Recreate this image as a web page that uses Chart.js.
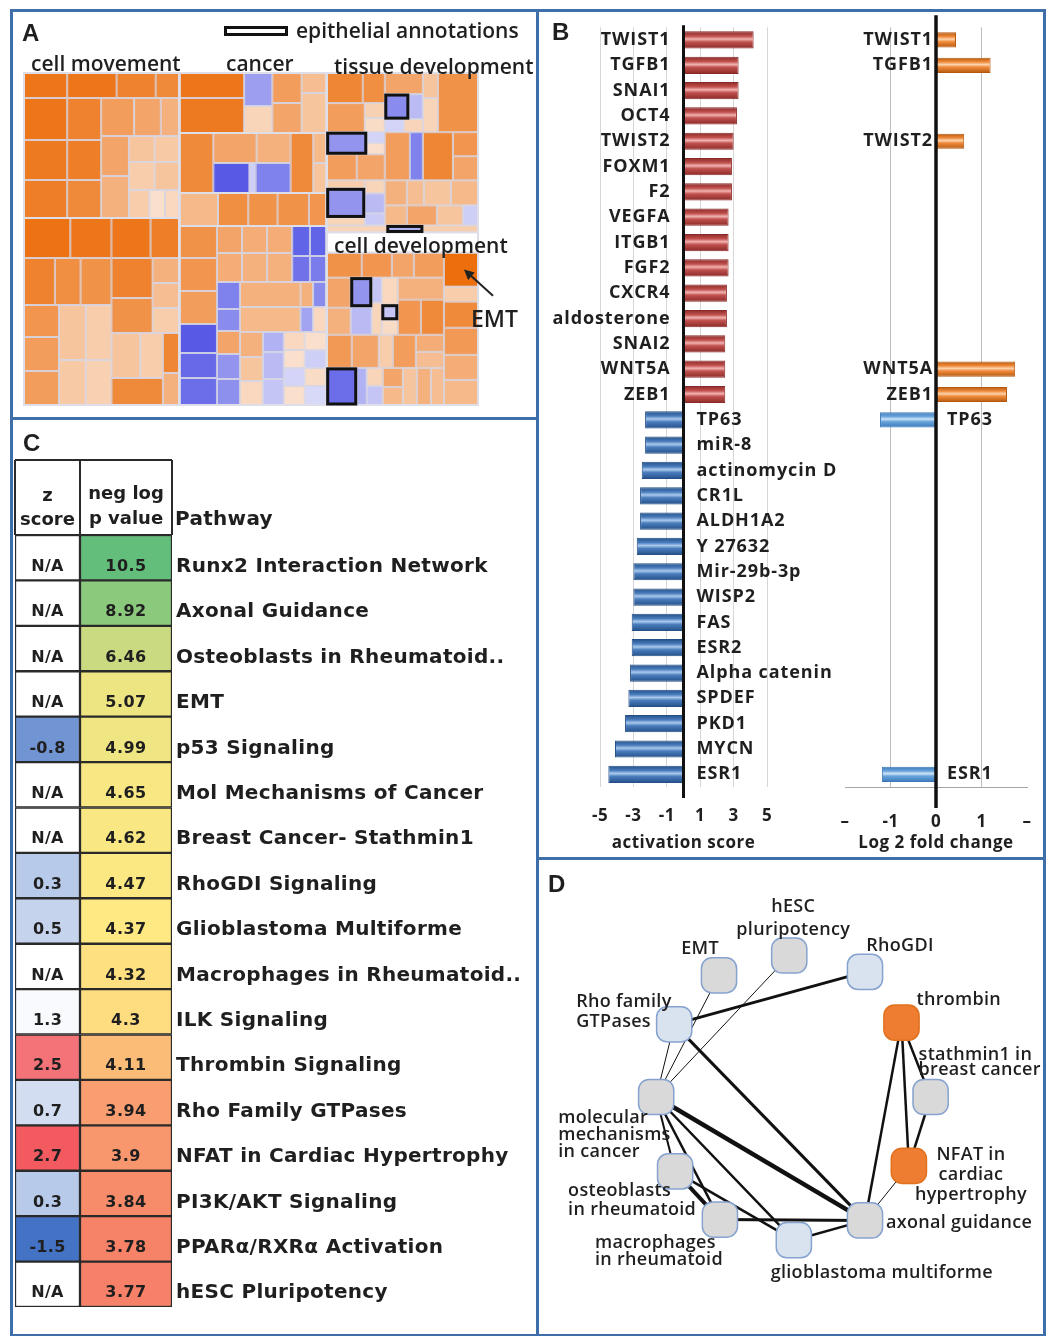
<!DOCTYPE html>
<html lang="en">
<head>
<meta charset="UTF-8">
<title>EMT signature figure</title>
<script src="https://cdn.jsdelivr.net/npm/chart.js"></script>
<style>
  body { margin: 0; background: #fff; }
  #fig { position: relative; width: 1047px; height: 1336px; overflow: hidden; background: #fff; }
  .frame { position: absolute; border: 3px solid #3f6faa; box-sizing: border-box; }
  canvas { position: absolute; }
  .lbl { position: absolute; white-space: nowrap; color: #1f1f1f; line-height: 1; transform: translateY(-50%);
         font-family: 'Open Sans', sans-serif; font-weight: 600; font-size: 21px; }
  .letter { font-family: 'Liberation Sans', Arial, sans-serif; font-weight: bold; font-size: 24px; }
  #annoBox { position: absolute; left: 224px; top: 26px; width: 64px; height: 10px; border: 3px solid #111; box-sizing: border-box; background: #fff; }
</style>
</head>
<body>
<div id="fig">
  <div class="frame" style="left:10px;top:9px;width:529px;height:411px"></div>
  <div class="frame" style="left:536px;top:9px;width:510px;height:851px"></div>
  <div class="frame" style="left:10px;top:417px;width:529px;height:920px"></div>
  <div class="frame" style="left:536px;top:857px;width:510px;height:480px"></div>

  <canvas id="treemap" width="523" height="405" style="left:13px;top:12px"></canvas>
  <canvas id="actChart" width="505" height="846" style="left:540px;top:12px"></canvas>
  <canvas id="fcChart" width="505" height="846" style="left:540px;top:12px"></canvas>
  <canvas id="tableChart" width="537" height="914" style="left:0px;top:420px"></canvas>
  <canvas id="netChart" width="506" height="474" style="left:539px;top:860px"></canvas>

  <div id="annoBox"></div>
  <div class="lbl letter" style="left:22px;top:33px">A</div>
  <div class="lbl" style="left:296px;top:30px">epithelial annotations</div>
  <div class="lbl" style="left:31px;top:63px">cell movement</div>
  <div class="lbl" style="left:226px;top:63px">cancer</div>
  <div class="lbl" style="left:334px;top:66px">tissue development</div>
  <div class="lbl" style="left:334px;top:245px">cell development</div>
  <div class="lbl" style="left:471px;top:318px;font-size:23px">EMT</div>
  <div class="lbl letter" style="left:552px;top:32px">B</div>
  <div class="lbl letter" style="left:23px;top:443px">C</div>
  <div class="lbl letter" style="left:548px;top:884px">D</div>
</div>

<script>
const INK = '#1f1f1f';

// ---------- panel A: treemap ----------
// a cell is [size, z score (, 1 = epithelial annotation, 2 = EMT)],
// a block is [size, 'h' | 'v', children]; [size, null] leaves a gap
const cellMovement = [155, 'v', [
  [145, 'v', [
    [25, 'h', [[42, 3], [48, 3], [38, 2.7], [23, 2.5]]],
    [120, 'h', [
      [42, 'v', [[42, 3], [40, 2.9], [38, 2.8]]],
      [33, 'v', [[42, 2.7], [40, 2.8], [38, 2.5]]],
      [76, 'v', [
        [38, 'h', [[32, 2.0], [26, 1.8], [18, 1.5]]],
        [82, 'h', [
          [27, 'v', [[40, 1.8], [42, 1.5]]],
          [49, 'v', [
            [26, 'h', [[25, 1.0], [24, 0.9]]],
            [28, 'h', [[25, 0.8], [24, 1.0]]],
            [28, 'h', [[20, 0.8], [15, 0.3], [14, 0.5]]]
          ]]
        ]]
      ]]
    ]]
  ]],
  [187, 'h', [
    [85, 'v', [
      [40, 'h', [[45, 3.1], [40, 3]]],
      [47, 'h', [[30, 2.7], [25, 2.4], [30, 2.3]]],
      [100, 'h', [
        [34, 'v', [[32, 2.2], [34, 2.0], [34, 2.0]]],
        [51, 'v', [[55, 'h', [[26, 1.0], [25, 0.8]]], [45, 'h', [[26, 0.9], [25, 0.7]]]]]
      ]]
    ]],
    [66, 'v', [
      [40, 'h', [[38, 3], [28, 2.8]]],
      [75, 'h', [[40, 'v', [[40, 2.7], [35, 2.3]]], [26, 'v', [[25, 1.5], [25, 1.2], [25, 0.8]]]]],
      [72, 'h', [[50, 'v', [[45, 'h', [[28, 1.0], [22, 0.8]]], [27, 2.5]]], [16, 'v', [[40, 2.6], [32, 1.5]]]]]
    ]]
  ]]
]];

const cancer = [147, 'v', [
  [60, 'h', [
    [62, 'v', [[25, 3], [35, 2.9]]],
    [27, 'v', [[33, -1.6], [27, 0.6]]],
    [28, 'v', [[30, 2.0], [30, 1.8]]],
    [24, 'v', [[20, 1.2], [40, 1.0]]]
  ]],
  [60, 'h', [
    [33, 2.5],
    [75, 'v', [[30, 'h', [[42, 1.8], [33, 1.5]]], [30, 'h', [[35, -3], [6, -0.6], [34, -2.2]]]]],
    [22, 2.5],
    [13, 'v', [[30, 1.3], [30, 1.0]]]
  ]],
  [33, 'h', [[37, 1.3], [29, 2.4], [28, 2.3], [30, 2.3], [17, 2.2]]],
  [179, 'h', [
    [36, 'v', [[32, 2.3], [33, 2.2], [33, 2.0], [29, -3], [25, -2.7], [27, -2.6]]],
    [105, 'v', [
      [56, 'h', [
        [72, 'v', [[27, 'h', [[24, 1.8], [24, 1.6], [24, 1.6]]], [29, 'h', [[24, 1.6], [24, 1.5], [24, 1.5]]]]],
        [33, 'v', [[30, 'h', [[17, -2.8], [16, -2.8]]], [26, 'h', [[17, -2.5], [16, -2.3]]]]]
      ]],
      [123, 'h', [
        [22, 'v', [[27, -2.2], [22, -2.0], [23, 1.8], [25, -1.8], [26, -1.9]]],
        [83, 'v', [
          [50, 'h', [[58, 'v', [[25, 1.5], [25, 1.3]]], [12, 'v', [[25, 1.5], [25, -1.5]]], [13, 'v', [[25, -2.0], [25, 0.5]]]]],
          [73, 'h', [
            [22, 'v', [[25, 1.5], [24, 1.0], [24, 0.5]]],
            [20, 'v', [[20, -1.2], [27, -1.0], [26, -0.8]]],
            [20, 'v', [[18, 0.5], [18, 0.3], [18, -0.5], [19, 0.3]]],
            [21, 'v', [[18, 0.3], [18, -0.6], [18, 0.4], [19, -0.4]]]
          ]]
        ]]
      ]]
    ]]
  ]]
]];

const tissueDevelopment = [159, 'v', [
  [59, 'h', [
    [58, 'v', [[30, 'h', [[36, 2.6], [22, 2.4]]], [29, 'h', [[38, 2.0], [20, 'v', [[15, 0.7], [14, 0.4]]]]]]],
    [38, 'v', [[21, 1.8], [25, 'h', [[24, -2, 1], [14, -1]]], [13, 'h', [[19, -0.5], [19, 0.6]]]]],
    [15, 'v', [[25, 1.0], [34, 0.6]]],
    [40, 2.3]
  ]],
  [48, 'h', [
    [58, 'v', [[22, 'h', [[40, -1.8, 1], [18, 'v', [[11, -0.5], [11, 0.3]]]]], [26, 'h', [[30, 2.0], [28, 1.8]]]]],
    [25, 2.0],
    [13, -2.2],
    [30, 2.6],
    [25, 'v', [[24, 2.2], [24, 1.8]]]
  ]],
  [45, 'h', [
    [38, 'v', [[8, 0.8], [29, -1.8, 1], [8, 0.6]]],
    [20, 'v', [[13, 0.6], [20, -1.0], [12, -0.7]]],
    [93, 'v', [[25, 'h', [[22, 1.5], [17, 1.2], [27, 1.0], [27, 1.3]]], [20, 'h', [[22, 1.3], [30, 1.8], [26, 1.0], [15, -0.6]]]]]
  ]],
  [7, 'h', [[60, 0.6], [36, -1.2, 1], [55, 0.8]]]
]];

const cellDevelopment = [152, 'h', [
  [117, 'v', [
    [25, 'h', [[35, 2.3], [30, 2.2], [22, 1.8], [30, 2.0]]],
    [57, 'h', [
      [24, 'v', [[30, 1.8], [27, 1.5]]],
      [21, 'v', [[29, -1.8, 1], [28, -1.0]]],
      [10, 'v', [[25, -0.8], [32, 0.6]]],
      [16, 'v', [[27, 0.5], [15, -0.8, 1], [15, 0.4]]],
      [46, 'v', [[22, 1.5], [35, 'h', [[23, 2.2], [23, 2.5]]]]]
    ]],
    [33, 'h', [[25, 2.1], [27, 1.8], [14, 0.8], [23, 2.0], [28, 'v', [[17, 1.6], [16, 1.2]]]]],
    [37, 'h', [[30, -2.6, 1], [10, -1.2], [16, 'v', [[18, 0.6], [19, -0.8]]], [20, 'v', [[19, 1.8], [18, 1.3]]], [41, 'h', [[14, 1.0], [14, 1.5], [13, 1.2]]]]]
  ]],
  [34, 'v', [[34, 3.2, 2], [15, 0.8], [26, 2.5], [27, 2.1], [25, 1.6], [25, 1.3]]]
]];

const treemapRoot = [1, 'h', [cellMovement, cancer, [151, 'v', [tissueDevelopment, [20, null], cellDevelopment]]]];

// ---------- panel B ----------
const regulators = ['TWIST1', 'TGFB1', 'SNAI1', 'OCT4', 'TWIST2', 'FOXM1', 'F2', 'VEGFA', 'ITGB1', 'FGF2',
  'CXCR4', 'aldosterone', 'SNAI2', 'WNT5A', 'ZEB1', 'TP63', 'miR-8', 'actinomycin D', 'CR1L', 'ALDH1A2',
  'Y 27632', 'Mir-29b-3p', 'WISP2', 'FAS', 'ESR2', 'Alpha catenin', 'SPDEF', 'PKD1', 'MYCN', 'ESR1'];
const activationScore = [4.2, 3.3, 3.3, 3.2, 3.0, 2.9, 2.9, 2.7, 2.7, 2.7, 2.6, 2.6, 2.5, 2.5, 2.5,
  -2.3, -2.3, -2.5, -2.6, -2.6, -2.8, -3.0, -3.0, -3.1, -3.1, -3.2, -3.3, -3.5, -4.1, -4.5];
const log2FoldChange = [0.44, 1.2, null, null, 0.62, null, null, null, null, null, null, null, null, 1.74, 1.56,
  -1.23, null, null, null, null, null, null, null, null, null, null, null, null, null, -1.19];

// ---------- panel C ----------
const pathways = ['Runx2 Interaction Network', 'Axonal Guidance', 'Osteoblasts in Rheumatoid..', 'EMT',
  'p53 Signaling', 'Mol Mechanisms of Cancer', 'Breast Cancer- Stathmin1', 'RhoGDI Signaling',
  'Glioblastoma Multiforme', 'Macrophages in Rheumatoid..', 'ILK Signaling', 'Thrombin Signaling',
  'Rho Family GTPases', 'NFAT in Cardiac Hypertrophy', 'PI3K/AKT Signaling', 'PPARα/RXRα Activation',
  'hESC Pluripotency'];
const zScore = [null, null, null, null, -0.8, null, null, 0.3, 0.5, null, 1.3, 2.5, 0.7, 2.7, 0.3, -1.5, null];
const negLogP = [10.5, 8.92, 6.46, 5.07, 4.99, 4.65, 4.62, 4.47, 4.37, 4.32, 4.3, 4.11, 3.94, 3.9, 3.84, 3.78, 3.77];

// ---------- panel D ----------
const netNodes = ['hESC pluripotency', 'EMT', 'RhoGDI', 'Rho family GTPases', 'thrombin',
  'stathmin1 in breast cancer', 'molecular mechanisms in cancer', 'NFAT in cardiac hypertrophy',
  'osteoblasts in rheumatoid', 'axonal guidance', 'macrophages in rheumatoid', 'glioblastoma multiforme'];
const netX = [49.4, 34.2, 65.8, 24.5, 73.7, 80.0, 20.6, 75.3, 24.7, 65.8, 34.4, 50.4];
const netY = [17.1, 21.7, 20.9, 33.1, 32.7, 50.0, 50.0, 66.0, 67.3, 78.7, 78.5, 83.3];
const netZ = [null, null, 0.3, 0.7, 2.5, null, null, 2.7, null, null, null, 0.5];
const edgeFrom = [3, 3, 3, 1, 0, 6, 6, 6, 6, 8, 8, 10, 11, 4, 4, 4, 5, 7];
const edgeTo = [2, 9, 6, 6, 6, 9, 11, 10, 8, 10, 11, 9, 9, 9, 5, 7, 7, 9];
const edgeWeight = [3, 3, 1, 1, 1, 4.5, 2.5, 2.5, 2, 4, 2.5, 3, 2.5, 2.5, 2.5, 2.5, 2.5, 1];

// label placement around each node (px from node centre)
const netLabelLayout = [
  { lines: ['hESC', 'pluripotency'], dx: 4, dy: [-49, -26], align: 'center' },
  { lines: ['EMT'], dx: -19, dy: [-26], align: 'center' },
  { lines: ['RhoGDI'], dx: 35, dy: [-26], align: 'center' },
  { lines: ['Rho family', 'GTPases'], dx: -98, dy: [-22, -2], align: 'left' },
  { lines: ['thrombin'], dx: 15, dy: [-23], align: 'left' },
  { lines: ['stathmin1 in', 'breast cancer'], dx: -12, dy: [-42, -27], align: 'left' },
  { lines: ['molecular', 'mechanisms', 'in cancer'], dx: -98, dy: [21, 38, 55], align: 'left' },
  { lines: ['NFAT in', 'cardiac', 'hypertrophy'], dx: 62, dy: [-11, 9, 29], align: 'center' },
  { lines: ['osteoblasts', 'in rheumatoid'], dx: -107, dy: [19, 38], align: 'left' },
  { lines: ['axonal guidance'], dx: 21, dy: [2], align: 'left' },
  { lines: ['macrophages', 'in rheumatoid'], dx: -125, dy: [23, 40], align: 'left' },
  { lines: ['glioblastoma multiforme'], dx: 88, dy: [33], align: 'center' }
];

// ---------- helpers ----------
function mixRgb(a, b, t) {
  return 'rgb(' + a.map((c, i) => Math.round(c + (b[i] - c) * t)).join(',') + ')';
}

function txt(ctx, s, x, y, font, align, spacing) {
  ctx.save();
  ctx.font = font;
  ctx.fillStyle = INK;
  ctx.textAlign = align || 'left';
  ctx.textBaseline = 'middle';
  ctx.letterSpacing = (spacing || 0) + 'px';
  ctx.fillText(s, x, y);
  ctx.restore();
}

const spacing = px => ({
  id: 'spacing',
  beforeDraw: c => { c.ctx.letterSpacing = px + 'px'; },
  afterDraw: c => { c.ctx.letterSpacing = '0px'; }
});

const noExtras = { legend: { display: false }, tooltip: { enabled: false } };

// ---------- A: treemap ----------
function tmColor(v) {
  if (v >= 0) return mixRgb([251, 236, 224], [237, 118, 26], Math.min(v / 3, 1.08));
  return mixRgb([236, 236, 251], [88, 90, 230], Math.min(-v / 3, 1));
}

function sliceDice(node, x0, y0, x1, y1, depth, cells, blocks) {
  const kind = node[1];
  if (kind === null) return;
  if (typeof kind !== 'string') {
    cells.push({ x0, y0, x1, y1, v: kind, mark: node[2] || 0 });
    return;
  }
  blocks.push({ x0, y0, x1, y1, depth });
  const kids = node[2];
  const total = kids.reduce((s, k) => s + k[0], 0);
  let acc = 0;
  kids.forEach(k => {
    const a = acc / total, b = (acc + k[0]) / total;
    acc += k[0];
    if (kind === 'h') sliceDice(k, x0 + (x1 - x0) * a, y0, x0 + (x1 - x0) * b, y1, depth + 1, cells, blocks);
    else sliceDice(k, x0, y0 + (y1 - y0) * a, x1, y0 + (y1 - y0) * b, depth + 1, cells, blocks);
  });
}

const treemapPlugin = {
  id: 'treemap',
  beforeDatasetsDraw(chart) {
    const { ctx, scales: { x, y } } = chart;
    const cells = [], blocks = [];
    sliceDice(treemapRoot, 0, 0, 1, 1, 0, cells, blocks);
    const box = r => {
      const X0 = x.getPixelForValue(r.x0), X1 = x.getPixelForValue(r.x1);
      const Y0 = y.getPixelForValue(r.y0), Y1 = y.getPixelForValue(r.y1);
      return [X0, Y0, X1 - X0, Y1 - Y0];
    };
    ctx.save();
    cells.forEach(c => {
      const [bx, by, bw, bh] = box(c);
      ctx.fillStyle = tmColor(c.v);
      ctx.fillRect(bx, by, bw, bh);
      ctx.strokeStyle = 'rgba(214,214,228,0.9)';
      ctx.lineWidth = 1;
      ctx.strokeRect(bx + 0.5, by + 0.5, bw - 1, bh - 1);
    });
    blocks.filter(b => b.depth >= 1 && b.depth <= 2).forEach(b => {
      const [bx, by, bw, bh] = box(b);
      ctx.strokeStyle = '#dedee8';
      ctx.lineWidth = 2;
      ctx.strokeRect(bx, by, bw, bh);
    });
    cells.filter(c => c.mark === 1).forEach(c => {
      const [bx, by, bw, bh] = box(c);
      ctx.strokeStyle = '#111';
      ctx.lineWidth = 3;
      ctx.strokeRect(bx + 1, by + 1, bw - 2, bh - 2);
    });
    const emt = cells.find(c => c.mark === 2);
    if (emt) {
      const [bx, by, bw, bh] = box(emt);
      const tip = [bx + bw - 14, by + bh / 2], tail = [bx + bw + 15, by + bh + 9];
      const ang = Math.atan2(tip[1] - tail[1], tip[0] - tail[0]);
      ctx.strokeStyle = '#222';
      ctx.fillStyle = '#222';
      ctx.lineWidth = 2;
      ctx.beginPath();
      ctx.moveTo(tail[0], tail[1]);
      ctx.lineTo(tip[0] - 6 * Math.cos(ang), tip[1] - 6 * Math.sin(ang));
      ctx.stroke();
      ctx.beginPath();
      ctx.moveTo(tip[0], tip[1]);
      ctx.lineTo(tip[0] - 10 * Math.cos(ang) + 5 * Math.sin(ang), tip[1] - 10 * Math.sin(ang) - 5 * Math.cos(ang));
      ctx.lineTo(tip[0] - 10 * Math.cos(ang) - 5 * Math.sin(ang), tip[1] - 10 * Math.sin(ang) + 5 * Math.cos(ang));
      ctx.closePath();
      ctx.fill();
    }
    ctx.restore();
  }
};

new Chart(document.getElementById('treemap'), {
  type: 'scatter',
  data: { datasets: [{ data: [] }] },
  options: {
    responsive: false, animation: false,
    layout: { padding: { left: 11, right: 58, top: 61, bottom: 12 } },
    plugins: noExtras,
    scales: {
      x: { display: false, min: 0, max: 1 },
      y: { display: false, min: 0, max: 1, reverse: true }
    }
  },
  plugins: [treemapPlugin]
});

// ---------- B: regulator bars ----------
const RED_BAR = ['#8a2a28', '#c0504d', '#f1b3b1'];
const BLUE_BAR = ['#234f86', '#4a7dbd', '#a9c9ec'];
const ORANGE_BAR = ['#b4580f', '#f08a3a', '#fcd3ad'];
const SKY_BAR = ['#3b78b8', '#68a4dc', '#cde3f7'];
const tickFont = { family: 'Open Sans', size: 17, weight: 'bold' };
const regFont = "bold 18px 'Open Sans'";

function barFill(pos, neg, pct) {
  return ctx => {
    const stops = ctx.raw >= 0 ? pos : neg;
    const c = ctx.chart, ys = c.scales.y;
    if (ctx.type !== 'data' || !c.chartArea || !ys) return stops[1];
    const yc = ys.getPixelForValue(ctx.dataIndex);
    const half = Math.abs(ys.getPixelForValue(1) - ys.getPixelForValue(0)) * pct / 2;
    const g = c.ctx.createLinearGradient(0, yc - half, 0, yc + half);
    g.addColorStop(0, stops[0]);
    g.addColorStop(0.28, stops[1]);
    g.addColorStop(0.45, stops[2]);
    g.addColorStop(0.62, stops[1]);
    g.addColorStop(1, stops[0]);
    return g;
  };
}

function regulatorLabels(values, gapPos, gapNeg, lineTop, lineBottom, lineWidth) {
  return {
    id: 'regLabels',
    afterDatasetsDraw(chart) {
      const { ctx, chartArea: a, scales: { x, y } } = chart;
      const x0 = x.getPixelForValue(0);
      ctx.save();
      ctx.strokeStyle = '#111';
      ctx.lineWidth = lineWidth;
      ctx.beginPath();
      ctx.moveTo(x0, a.top - lineTop);
      ctx.lineTo(x0, a.bottom + lineBottom);
      ctx.stroke();
      ctx.restore();
      values.forEach((v, i) => {
        if (v == null) return;
        const yc = y.getPixelForValue(i);
        if (v > 0) txt(ctx, regulators[i], x0 - gapPos, yc, regFont, 'right', 0.9);
        else txt(ctx, regulators[i], x0 + gapNeg, yc, regFont, 'left', 0.9);
      });
    }
  };
}

function barOptions(padLeft, padRight, xOpts) {
  return {
    indexAxis: 'y', responsive: false, animation: false,
    layout: { padding: { left: padLeft, right: padRight, top: 15.3, bottom: 5 } },
    plugins: noExtras,
    scales: {
      x: Object.assign({
        afterFit: s => { s.height = 66; s.paddingLeft = 0; s.paddingRight = 0; }
      }, xOpts),
      y: { display: false }
    }
  };
}

new Chart(document.getElementById('actChart'), {
  type: 'bar',
  data: {
    labels: regulators,
    datasets: [{
      data: activationScore,
      backgroundColor: barFill(RED_BAR, BLUE_BAR, 0.68),
      borderColor: c => (c.raw >= 0 ? RED_BAR[0] : BLUE_BAR[0]),
      borderWidth: 1, barPercentage: 0.68, categoryPercentage: 1
    }]
  },
  options: barOptions(60, 278, {
    min: -5, max: 5,
    ticks: { stepSize: 2, padding: 19, color: INK, font: tickFont },
    grid: { color: '#d6d6d6', drawTicks: false },
    border: { display: false },
    title: { display: true, text: 'activation score', color: INK, font: tickFont, padding: 0 }
  }),
  plugins: [spacing(0.5), regulatorLabels(activationScore, 13, 13, 2, 11, 3)]
});

new Chart(document.getElementById('fcChart'), {
  type: 'bar',
  data: {
    labels: regulators,
    datasets: [{
      data: log2FoldChange,
      backgroundColor: barFill(ORANGE_BAR, SKY_BAR, 0.6),
      borderColor: c => (c.raw >= 0 ? ORANGE_BAR[0] : SKY_BAR[0]),
      borderWidth: 1, barPercentage: 0.6, categoryPercentage: 1
    }]
  },
  options: barOptions(305, 18, {
    min: -2, max: 2,
    ticks: { stepSize: 1, padding: 25, color: INK, font: tickFont,
             callback: v => (Math.abs(v) === 2 ? '–' : String(v)) },
    grid: { color: c => (Math.abs(c.tick.value) === 1 ? '#bdbdbd' : 'rgba(0,0,0,0)'), drawTicks: false },
    border: { display: true, color: '#a6a6a6', width: 1 },
    title: { display: true, text: 'Log 2 fold change', color: INK, font: tickFont, padding: 0 }
  }),
  plugins: [spacing(0.5), regulatorLabels(log2FoldChange, 3, 11, 12, 21, 3.5)]
});

// ---------- C: pathway table ----------
const Z_SPLIT = 0.414;   // share of the table width taken by the z score column

function zColor(v) {
  if (v == null) return '#ffffff';
  const blue = [68, 114, 196], white = [255, 255, 255], red = [242, 90, 95];
  const known = zScore.filter(z => z != null);
  const lo = Math.min(...known), hi = Math.max(...known);
  const mid = 1.4;
  return v < mid ? mixRgb(blue, white, (v - lo) / (mid - lo)) : mixRgb(white, red, (v - mid) / (hi - mid));
}

function pColor(v) {
  const sorted = [...negLogP].sort((a, b) => a - b);
  const lo = sorted[0], hi = sorted[sorted.length - 1], mid = sorted[Math.floor(sorted.length / 2)];
  const red = [246, 128, 104], yellow = [255, 233, 131], green = [99, 190, 123];
  return v <= mid ? mixRgb(red, yellow, (v - lo) / (mid - lo)) : mixRgb(yellow, green, (v - mid) / (hi - mid));
}

const tablePlugin = {
  id: 'tableText',
  afterDraw(chart) {
    const { ctx, chartArea: a, scales: { x, y } } = chart;
    const xl = x.getPixelForValue(0), xs = x.getPixelForValue(Z_SPLIT), xr = x.getPixelForValue(1);
    const top = a.top - 75;
    ctx.save();
    ctx.strokeStyle = '#2a2a2a';
    ctx.lineWidth = 2;
    ctx.beginPath();
    ctx.moveTo(xl, top); ctx.lineTo(xr, top);
    [xl, xs, xr].forEach(v => { ctx.moveTo(v, top); ctx.lineTo(v, a.top); });
    ctx.moveTo(xl, a.top); ctx.lineTo(xr, a.top);
    ctx.stroke();
    ctx.restore();
    const head = "bold 18px 'DejaVu Sans'";
    txt(ctx, 'z', (xl + xs) / 2, a.top - 39, head, 'center', 0);
    txt(ctx, 'score', (xl + xs) / 2, a.top - 15, head, 'center', 0);
    txt(ctx, 'neg log', (xs + xr) / 2, a.top - 41, head, 'center', 0);
    txt(ctx, 'p value', (xs + xr) / 2, a.top - 16, head, 'center', 0);
    txt(ctx, 'Pathway', xr + 3, a.top - 15, "bold 20px 'DejaVu Sans'", 'left', 0.3);
    const cellFont = "bold 16px 'DejaVu Sans'";
    pathways.forEach((p, i) => {
      const yc = y.getPixelForValue(i) + 9;
      txt(ctx, zScore[i] == null ? 'N/A' : String(zScore[i]), (xl + xs) / 2, yc, cellFont, 'center', 0.3);
      txt(ctx, String(negLogP[i]), (xs + xr) / 2, yc, cellFont, 'center', 0.5);
    });
  }
};

new Chart(document.getElementById('tableChart'), {
  type: 'bar',
  data: {
    labels: pathways,
    datasets: [
      { data: pathways.map(() => [0, Z_SPLIT]), backgroundColor: zScore.map(zColor) },
      { data: pathways.map(() => [Z_SPLIT, 1]), backgroundColor: negLogP.map(pColor) }
    ]
  },
  options: {
    indexAxis: 'y', responsive: false, animation: false,
    layout: { padding: { left: 15, right: 0, top: 115, bottom: 27 } },
    datasets: { bar: { grouped: false, barPercentage: 1, categoryPercentage: 1,
                       borderColor: '#2a2a2a', borderWidth: 1.5, borderSkipped: false } },
    plugins: noExtras,
    scales: {
      x: { display: false, min: 0, max: 1 },
      y: {
        position: 'right',
        grid: { display: false, drawTicks: false },
        border: { display: false },
        ticks: { color: INK, padding: 4, labelOffset: 9, autoSkip: false,
                 font: { family: 'DejaVu Sans', size: 20, weight: 'bold' } },
        afterFit: s => { s.width = 365; }
      }
    }
  },
  plugins: [spacing(0.3), tablePlugin]
});

// ---------- D: pathway network ----------
const nodeFill = z => (z == null ? '#d9d9d9' : z >= 2 ? '#ee7d31' : '#d9e2ef');
const nodeEdge = z => (z != null && z >= 2 ? '#e0721f' : '#86a3cf');

const netLabels = {
  id: 'netLabels',
  afterDatasetsDraw(chart) {
    const { ctx, scales: { x, y } } = chart;
    const font = "600 18px 'Open Sans'";
    netLabelLayout.forEach((lab, i) => {
      const px = x.getPixelForValue(netX[i]), py = y.getPixelForValue(netY[i]);
      lab.lines.forEach((line, k) => txt(ctx, line, px + lab.dx, py + lab.dy[k], font, lab.align, 0.3));
    });
  }
};

new Chart(document.getElementById('netChart'), {
  type: 'scatter',
  data: {
    datasets: [
      {
        data: netX.map((v, i) => ({ x: v, y: netY[i] })),
        pointStyle: 'rectRounded', pointRadius: 20.5, pointHoverRadius: 20.5,
        pointBackgroundColor: netZ.map(nodeFill), pointBorderColor: netZ.map(nodeEdge),
        pointBorderWidth: 1.5, order: 0
      },
      ...edgeFrom.map((f, k) => ({
        data: [{ x: netX[f], y: netY[f] }, { x: netX[edgeTo[k]], y: netY[edgeTo[k]] }],
        showLine: true, borderColor: '#111', borderWidth: edgeWeight[k], pointRadius: 0, order: 1
      }))
    ]
  },
  options: {
    responsive: false, animation: false,
    layout: { padding: 0 },
    plugins: noExtras,
    scales: {
      x: { display: false, min: 0, max: 100 },
      y: { display: false, min: 0, max: 100, reverse: true }
    }
  },
  plugins: [netLabels]
});
</script>
</body>
</html>
